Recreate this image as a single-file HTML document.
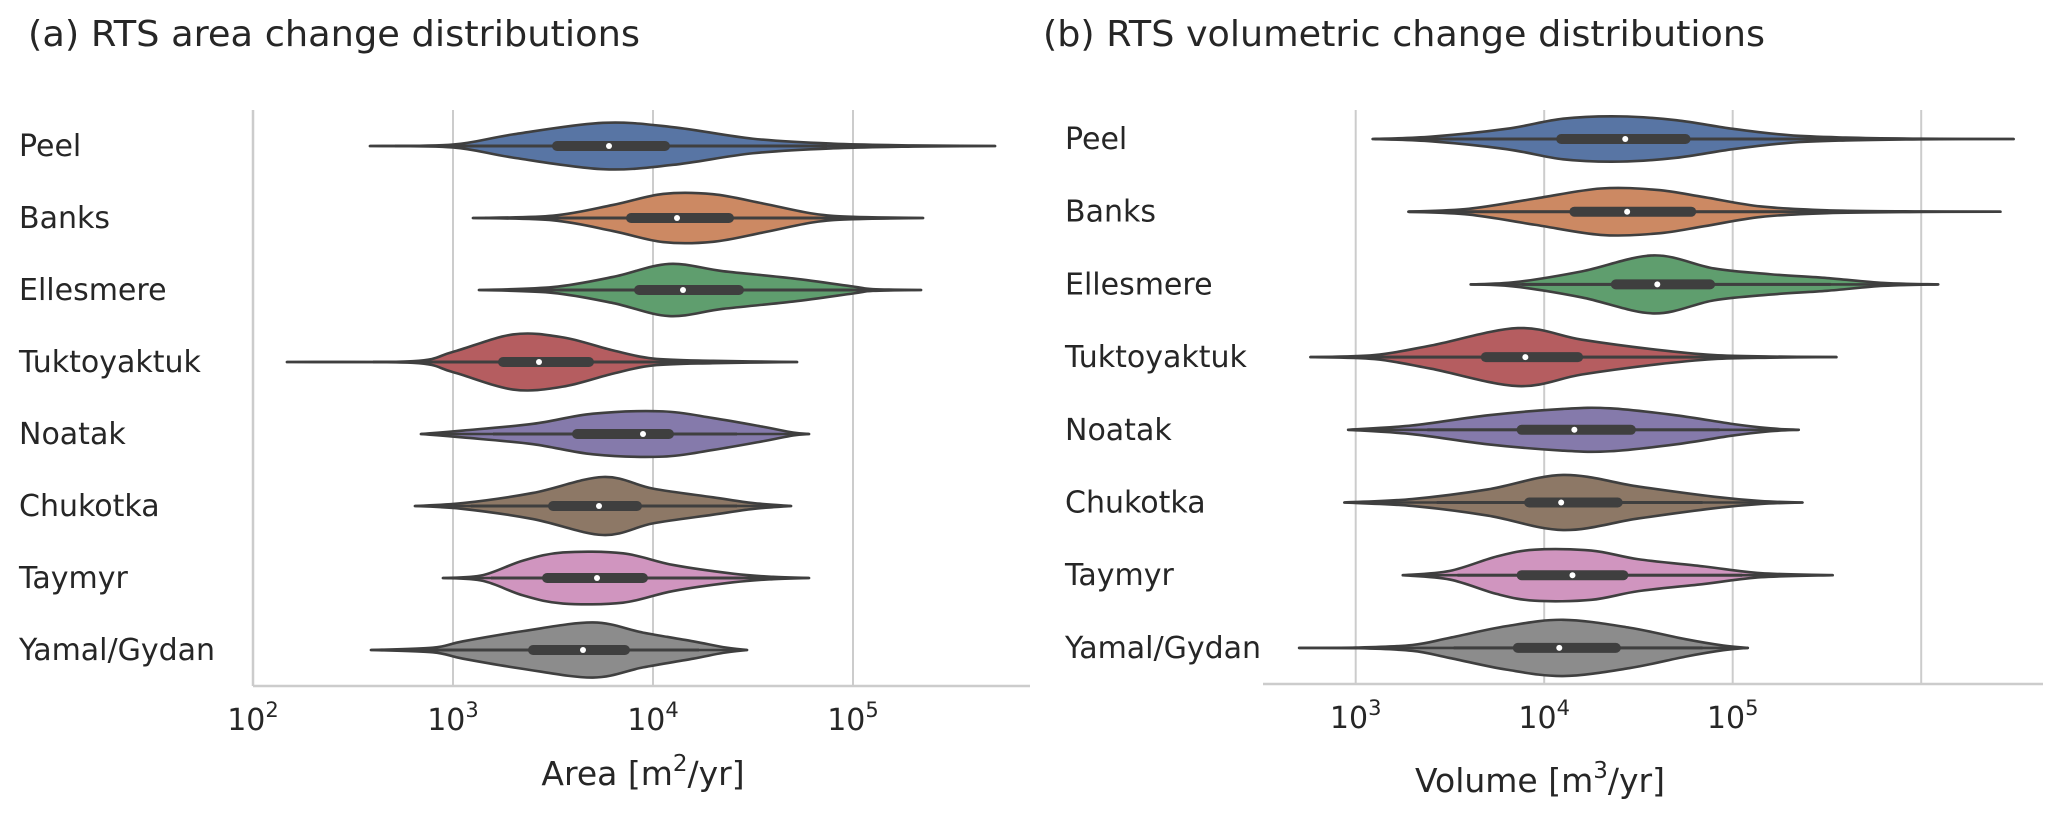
<!DOCTYPE html>
<html><head><meta charset="utf-8"><style>
html,body{margin:0;padding:0;background:#fff;}
svg{display:block;font-family:"DejaVu Sans","Liberation Sans",sans-serif;}
</style></head><body>
<svg id="fig" width="2067" height="819" viewBox="0 0 2067 819" xmlns="http://www.w3.org/2000/svg">
<g id="pa"></g>
<g id="pb"></g>
</svg>
<script>
const regions = ["Peel","Banks","Ellesmere","Tuktoyaktuk","Noatak","Chukotka","Taymyr","Yamal/Gydan"];
const fills = ["#5875a4","#cc8963","#5f9e6e","#b55d60","#857aab","#8d7866","#d095bf","#8c8c8c"];

// Panel (a): log10 area values
const areaKnotX = [
 [2.585,3.0,3.3,3.75,4.1,4.5,4.9,5.3,5.71],
 [3.10,3.5,3.8,4.05,4.3,4.55,4.8,5.0,5.35],
 [3.13,3.5,3.8,4.08,4.35,4.7,5.0,5.1,5.34],
 [2.17,2.8,3.0,3.3,3.55,3.8,4.0,4.3,4.72],
 [2.84,3.05,3.4,3.7,4.05,4.3,4.55,4.7,4.78],
 [2.81,3.05,3.4,3.75,4.0,4.3,4.5,4.69],
 [2.95,3.15,3.35,3.55,3.85,4.1,4.4,4.6,4.78],
 [2.59,2.9,3.05,3.35,3.7,3.95,4.2,4.35,4.47]
];
const areaDensity = [
 [0,0.05,0.4,0.8,0.65,0.25,0.08,0.02,0],
 [0,0.08,0.45,0.83,0.82,0.5,0.15,0.04,0],
 [0,0.1,0.45,0.9,0.65,0.4,0.12,0.03,0],
 [0,0.03,0.35,0.95,0.85,0.4,0.12,0.04,0],
 [0,0.12,0.35,0.7,0.78,0.55,0.25,0.05,0],
 [0,0.1,0.45,1.0,0.6,0.3,0.1,0],
 [0,0.1,0.6,0.88,0.85,0.45,0.15,0.04,0],
 [0,0.08,0.3,0.65,0.95,0.6,0.3,0.1,0]
];
const areaQ1 = [3.52,3.89,3.93,3.25,3.62,3.50,3.47,3.40];
const areaMedian = [3.78,4.12,4.15,3.43,3.95,3.73,3.72,3.65];
const areaQ3 = [4.06,4.38,4.43,3.68,4.08,3.92,3.95,3.86];
const areaWhiskLo = [2.71,3.16,3.18,2.60,3.20,3.09,3.19,2.81];
const areaWhiskHi = [4.87,5.11,5.18,4.33,4.42,4.42,4.54,4.23];
const areaTicks = [2,3,4,5];

// Panel (b): log10 volume values
const volKnotX = [
 [3.09,3.4,3.8,4.1,4.4,4.7,5.0,5.3,5.6,6.0,6.49],
 [3.28,3.6,3.95,4.3,4.6,4.85,5.15,5.5,6.0,6.42],
 [3.61,3.85,4.2,4.58,4.9,5.2,5.5,5.8,6.09],
 [2.76,3.1,3.4,3.86,4.2,4.6,4.9,5.2,5.55],
 [2.96,3.3,3.7,4.1,4.35,4.7,5.0,5.2,5.35],
 [2.94,3.3,3.7,4.1,4.5,4.9,5.15,5.37],
 [3.25,3.5,3.75,3.95,4.25,4.5,4.85,5.15,5.53],
 [2.70,3.0,3.3,3.5,3.8,4.1,4.45,4.75,4.95,5.08]
];
const volDensity = [
 [0,0.08,0.35,0.7,0.78,0.65,0.35,0.13,0.05,0.01,0],
 [0,0.1,0.45,0.8,0.75,0.5,0.18,0.05,0.01,0],
 [0,0.08,0.45,1.0,0.55,0.35,0.22,0.05,0],
 [0,0.07,0.4,1.0,0.6,0.25,0.07,0.02,0],
 [0,0.15,0.5,0.72,0.74,0.5,0.2,0.05,0],
 [0,0.12,0.45,0.95,0.55,0.2,0.05,0],
 [0,0.15,0.65,0.88,0.85,0.55,0.3,0.07,0],
 [0,0.01,0.1,0.35,0.75,0.97,0.7,0.3,0.08,0]
];
const volQ1 = [4.09,4.16,4.38,3.69,3.88,3.92,3.88,3.86];
const volMedian = [4.43,4.44,4.60,3.90,4.16,4.09,4.15,4.08];
const volQ3 = [4.75,4.78,4.88,4.18,4.46,4.39,4.42,4.38];
const volWhiskLo = [3.10,3.28,3.88,2.95,3.38,3.43,3.54,3.52];
const volWhiskHi = [5.74,5.71,5.52,4.92,4.93,4.84,5.05,4.84];
const volTicks = [3,4,5];
const volGrid = [3,4,5,6];

const NS = "http://www.w3.org/2000/svg";
function mk(parent, tag, attrs){
  const e = document.createElementNS(NS, tag);
  for (const k in attrs) e.setAttribute(k, attrs[k]);
  parent.appendChild(e);
  return e;
}
function smooth(pts){
  let d = "M" + pts[0][0].toFixed(2) + "," + pts[0][1].toFixed(2);
  for (let i = 0; i < pts.length - 1; i++){
    const p0 = pts[Math.max(i-1,0)], p1 = pts[i], p2 = pts[i+1], p3 = pts[Math.min(i+2,pts.length-1)];
    const c1 = [p1[0]+(p2[0]-p0[0])/6, p1[1]+(p2[1]-p0[1])/6];
    const c2 = [p2[0]-(p3[0]-p1[0])/6, p2[1]-(p3[1]-p1[1])/6];
    d += " C" + c1[0].toFixed(2)+","+c1[1].toFixed(2)+" "+c2[0].toFixed(2)+","+c2[1].toFixed(2)+" "+p2[0].toFixed(2)+","+p2[1].toFixed(2);
  }
  return d;
}

function panel(g, cfg){
  const xs = v => cfg.x0 + (v - cfg.v0) * cfg.dec;
  const ys = i => cfg.yTop + i * cfg.step;
  cfg.grid.forEach(t => {
    const l = mk(g, "line", {x1: xs(t), x2: xs(t), y1: cfg.gridTop, y2: cfg.axisY, stroke: "#cccccc", "stroke-width": 2});
    
    
  });
  const sp = mk(g, "line", {x1: cfg.spineX0, x2: cfg.spineX1, y1: cfg.axisY, y2: cfg.axisY, stroke: "#cccccc", "stroke-width": 2.5});
  
  
  if (cfg.leftSpine){
    const ls = mk(g, "line", {x1: cfg.spineX0, x2: cfg.spineX0, y1: cfg.gridTop, y2: cfg.axisY, stroke: "#cccccc", "stroke-width": 2.5});
    
    
  }
  cfg.ticks.forEach(t => {
    const tx = mk(g, "text", {x: xs(t), y: cfg.tickY, "text-anchor": "middle", "font-size": 30, fill: "#262626"});
    
    
    tx.appendChild(document.createTextNode("10"));
    const sup = mk(tx, "tspan", {dy: -13, "font-size": 21});
    sup.textContent = String(t);
  });
  const xl = mk(g, "text", {x: cfg.xlabX, y: cfg.xlabY, "text-anchor": "middle", "font-size": 33, fill: "#262626"});
  
  
  xl.appendChild(document.createTextNode(cfg.xlab1 + " [m"));
  const s2 = mk(xl, "tspan", {dy: -14, "font-size": 23}); s2.textContent = cfg.pow;
  const s3 = mk(xl, "tspan", {dy: 14}); s3.textContent = "/yr]";
  const ti = mk(g, "text", {x: cfg.titleX, y: 46, "font-size": 36, fill: "#262626", textLength: cfg.titleLen, lengthAdjust: "spacingAndGlyphs"});
  
  
  ti.textContent = cfg.title;
  regions.forEach((name, i) => {
    const cy = ys(i);
    const lab = mk(g, "text", {x: cfg.labX, y: cy + 10, "font-size": 30, fill: "#262626"});
    
    
    lab.textContent = name;
    const kx = cfg.knotX[i], kd = cfg.dens[i];
    const top = kx.map((v, j) => [xs(v), cy - kd[j] * cfg.hw]);
    const bot = kx.map((v, j) => [xs(v), cy + kd[j] * cfg.hw]).reverse();
    let d = smooth(top) + " L" + smooth(bot).slice(1) + " Z";
    const vg = mk(g, "g", {});
    
    
    const p = mk(vg, "path", {d: d, fill: fills[i], stroke: "#3f3f3f", "stroke-width": 2.6, "stroke-linejoin": "round"});
    
    
    const rng = mk(vg, "line", {x1: xs(kx[0]), x2: xs(kx[kx.length-1]), y1: cy, y2: cy, stroke: "#3f3f3f", "stroke-width": 2.6, "stroke-linecap": "round"});
    
    
    const wh = mk(vg, "line", {x1: xs(cfg.wlo[i]), x2: xs(cfg.whi[i]), y1: cy, y2: cy, stroke: "#3f3f3f", "stroke-width": 3});
    
    
    const bx = mk(vg, "line", {x1: xs(cfg.q1[i]), x2: xs(cfg.q3[i]), y1: cy, y2: cy, stroke: "#3f3f3f", "stroke-width": 10, "stroke-linecap": "round"});
    
    
    const md = mk(vg, "circle", {cx: xs(cfg.med[i]), cy: cy, r: 3, fill: "#ffffff"});
    
    
  });
}

panel(document.getElementById("pa"), {
  x0: 253, v0: 2, dec: 200, yTop: 146, step: 72, hw: 29,
  grid: areaTicks, ticks: areaTicks, gridTop: 110, axisY: 686,
  spineX0: 253, spineX1: 1030, leftSpine: true,
  tickY: 730, xlabX: 643, xlabY: 785, xlab1: "Area", pow: "2",
  titleX: 28, titleLen: 612, title: "(a) RTS area change distributions", labX: 19,
  knotX: areaKnotX, dens: areaDensity, q1: areaQ1, q3: areaQ3, med: areaMedian, wlo: areaWhiskLo, whi: areaWhiskHi
});
panel(document.getElementById("pb"), {
  x0: 1355.7, v0: 3, dec: 188.5, yTop: 139, step: 72.7, hw: 29,
  grid: volGrid, ticks: volTicks, gridTop: 110, axisY: 684,
  spineX0: 1263, spineX1: 2043, leftSpine: false,
  tickY: 728, xlabX: 1540, xlabY: 792, xlab1: "Volume", pow: "3",
  titleX: 1043, titleLen: 722, title: "(b) RTS volumetric change distributions", labX: 1065,
  knotX: volKnotX, dens: volDensity, q1: volQ1, q3: volQ3, med: volMedian, wlo: volWhiskLo, whi: volWhiskHi
});
</script>
</body></html>
